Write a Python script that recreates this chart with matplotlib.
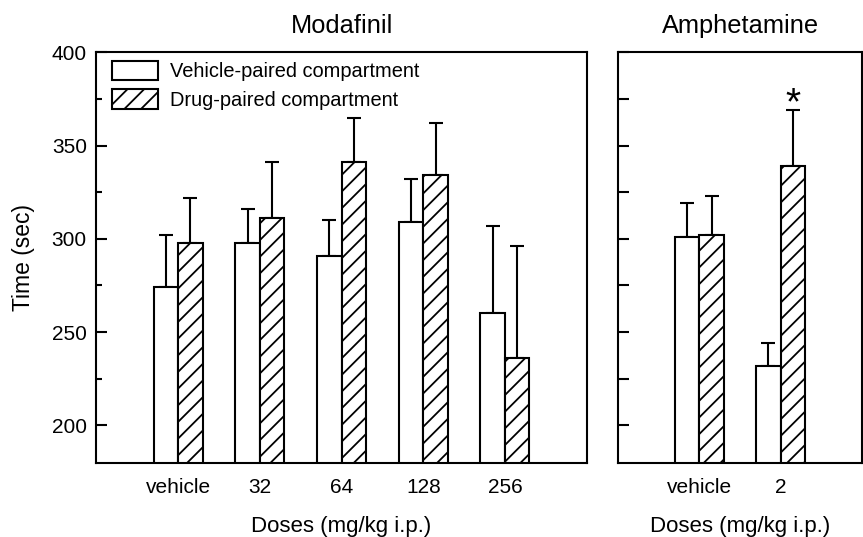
import numpy as np
import matplotlib.pyplot as plt
from matplotlib.ticker import MultipleLocator

plt.rcParams['font.family'] = ['Liberation Sans', 'DejaVu Sans']
plt.rcParams['hatch.linewidth'] = 1.3
plt.rcParams['hatch.color'] = 'black'

# Modafinil panel
moda_doses = ["vehicle", "32", "64", "128", "256"]
moda_vehicle = [274, 298, 291, 309, 260]
moda_vehicle_err = [28, 18, 19, 23, 47]
moda_drug = [298, 311, 341, 334, 236]
moda_drug_err = [24, 30, 24, 28, 60]

# Amphetamine panel
amph_doses = ["vehicle", "2"]
amph_vehicle = [301, 232]
amph_vehicle_err = [18, 12]
amph_drug = [302, 339]
amph_drug_err = [21, 30]
amph_signif = [False, True]

barWidth = 0.3
lw = 1.5


def drawPanel(ax, doses, vehicle, vehicleErr, drug, drugErr):
    x = np.arange(1, len(doses) + 1)
    b1 = ax.bar(x - barWidth/2, vehicle, barWidth, color='white', edgecolor='black',
                linewidth=lw, label="Vehicle-paired compartment", zorder=2)
    b2 = ax.bar(x + barWidth/2, drug, barWidth, color='white', edgecolor='black',
                linewidth=lw, hatch='//', label="Drug-paired compartment", zorder=2)
    ax.errorbar(x - barWidth/2, vehicle, yerr=[np.zeros(len(x)), vehicleErr], fmt='none',
                ecolor='black', elinewidth=lw, capsize=5, capthick=lw, zorder=1)
    ax.errorbar(x + barWidth/2, drug, yerr=[np.zeros(len(x)), drugErr], fmt='none',
                ecolor='black', elinewidth=lw, capsize=5, capthick=lw, zorder=1)
    ax.set_xlim(0, len(doses) + 1)
    ax.set_ylim(180, 400)
    ax.set_xticks(x)
    ax.set_xticklabels(doses, fontsize=15)
    ax.tick_params(axis='x', length=0, pad=11)
    for s in ax.spines.values():
        s.set_linewidth(lw)
    ax.set_xlabel("Doses (mg/kg i.p.)", fontsize=16, labelpad=14)
    return b1, b2


fig = plt.figure(figsize=(8.63, 5.37), dpi=100)
ax1 = fig.add_axes([0.1118, 0.1384, 0.568, 0.7642])
ax2 = fig.add_axes([0.7165, 0.1384, 0.282, 0.7642])

b1, b2 = drawPanel(ax1, moda_doses, moda_vehicle, moda_vehicle_err, moda_drug, moda_drug_err)
drawPanel(ax2, amph_doses, amph_vehicle, amph_vehicle_err, amph_drug, amph_drug_err)

# y axis: labelled ticks on the left panel only
ax1.yaxis.set_major_locator(MultipleLocator(50))
ax1.yaxis.set_minor_locator(MultipleLocator(25))
ax1.tick_params(axis='y', which='major', direction='in', length=8, width=lw, labelsize=15, pad=7)
ax1.tick_params(axis='y', which='minor', direction='in', length=4, width=lw)
ax1.set_ylabel("Time (sec)", fontsize=16.5, labelpad=12)

ax2.yaxis.set_major_locator(MultipleLocator(25))
ax2.tick_params(axis='y', which='major', direction='in', length=8, width=lw, labelleft=False)

ax1.set_title("Modafinil", fontsize=18.3, pad=14)
ax2.set_title("Amphetamine", fontsize=18.3, pad=14)

# significance star
for i in range(len(amph_doses)):
    if amph_signif[i]:
        ax2.text(i + 1 + barWidth/2, amph_drug[i] + amph_drug_err[i] - 2.5, "*",
                 ha='center', va='baseline', fontsize=28)

ax1.legend(handles=[b1, b2], loc='upper left', bbox_to_anchor=(0.0, 1.018),
           frameon=False, fontsize=14.4,
           handlelength=2.3, handleheight=1.1, handletextpad=0.6,
           labelspacing=0.4, borderaxespad=0.4)

fig.savefig("out.png", dpi=100)
